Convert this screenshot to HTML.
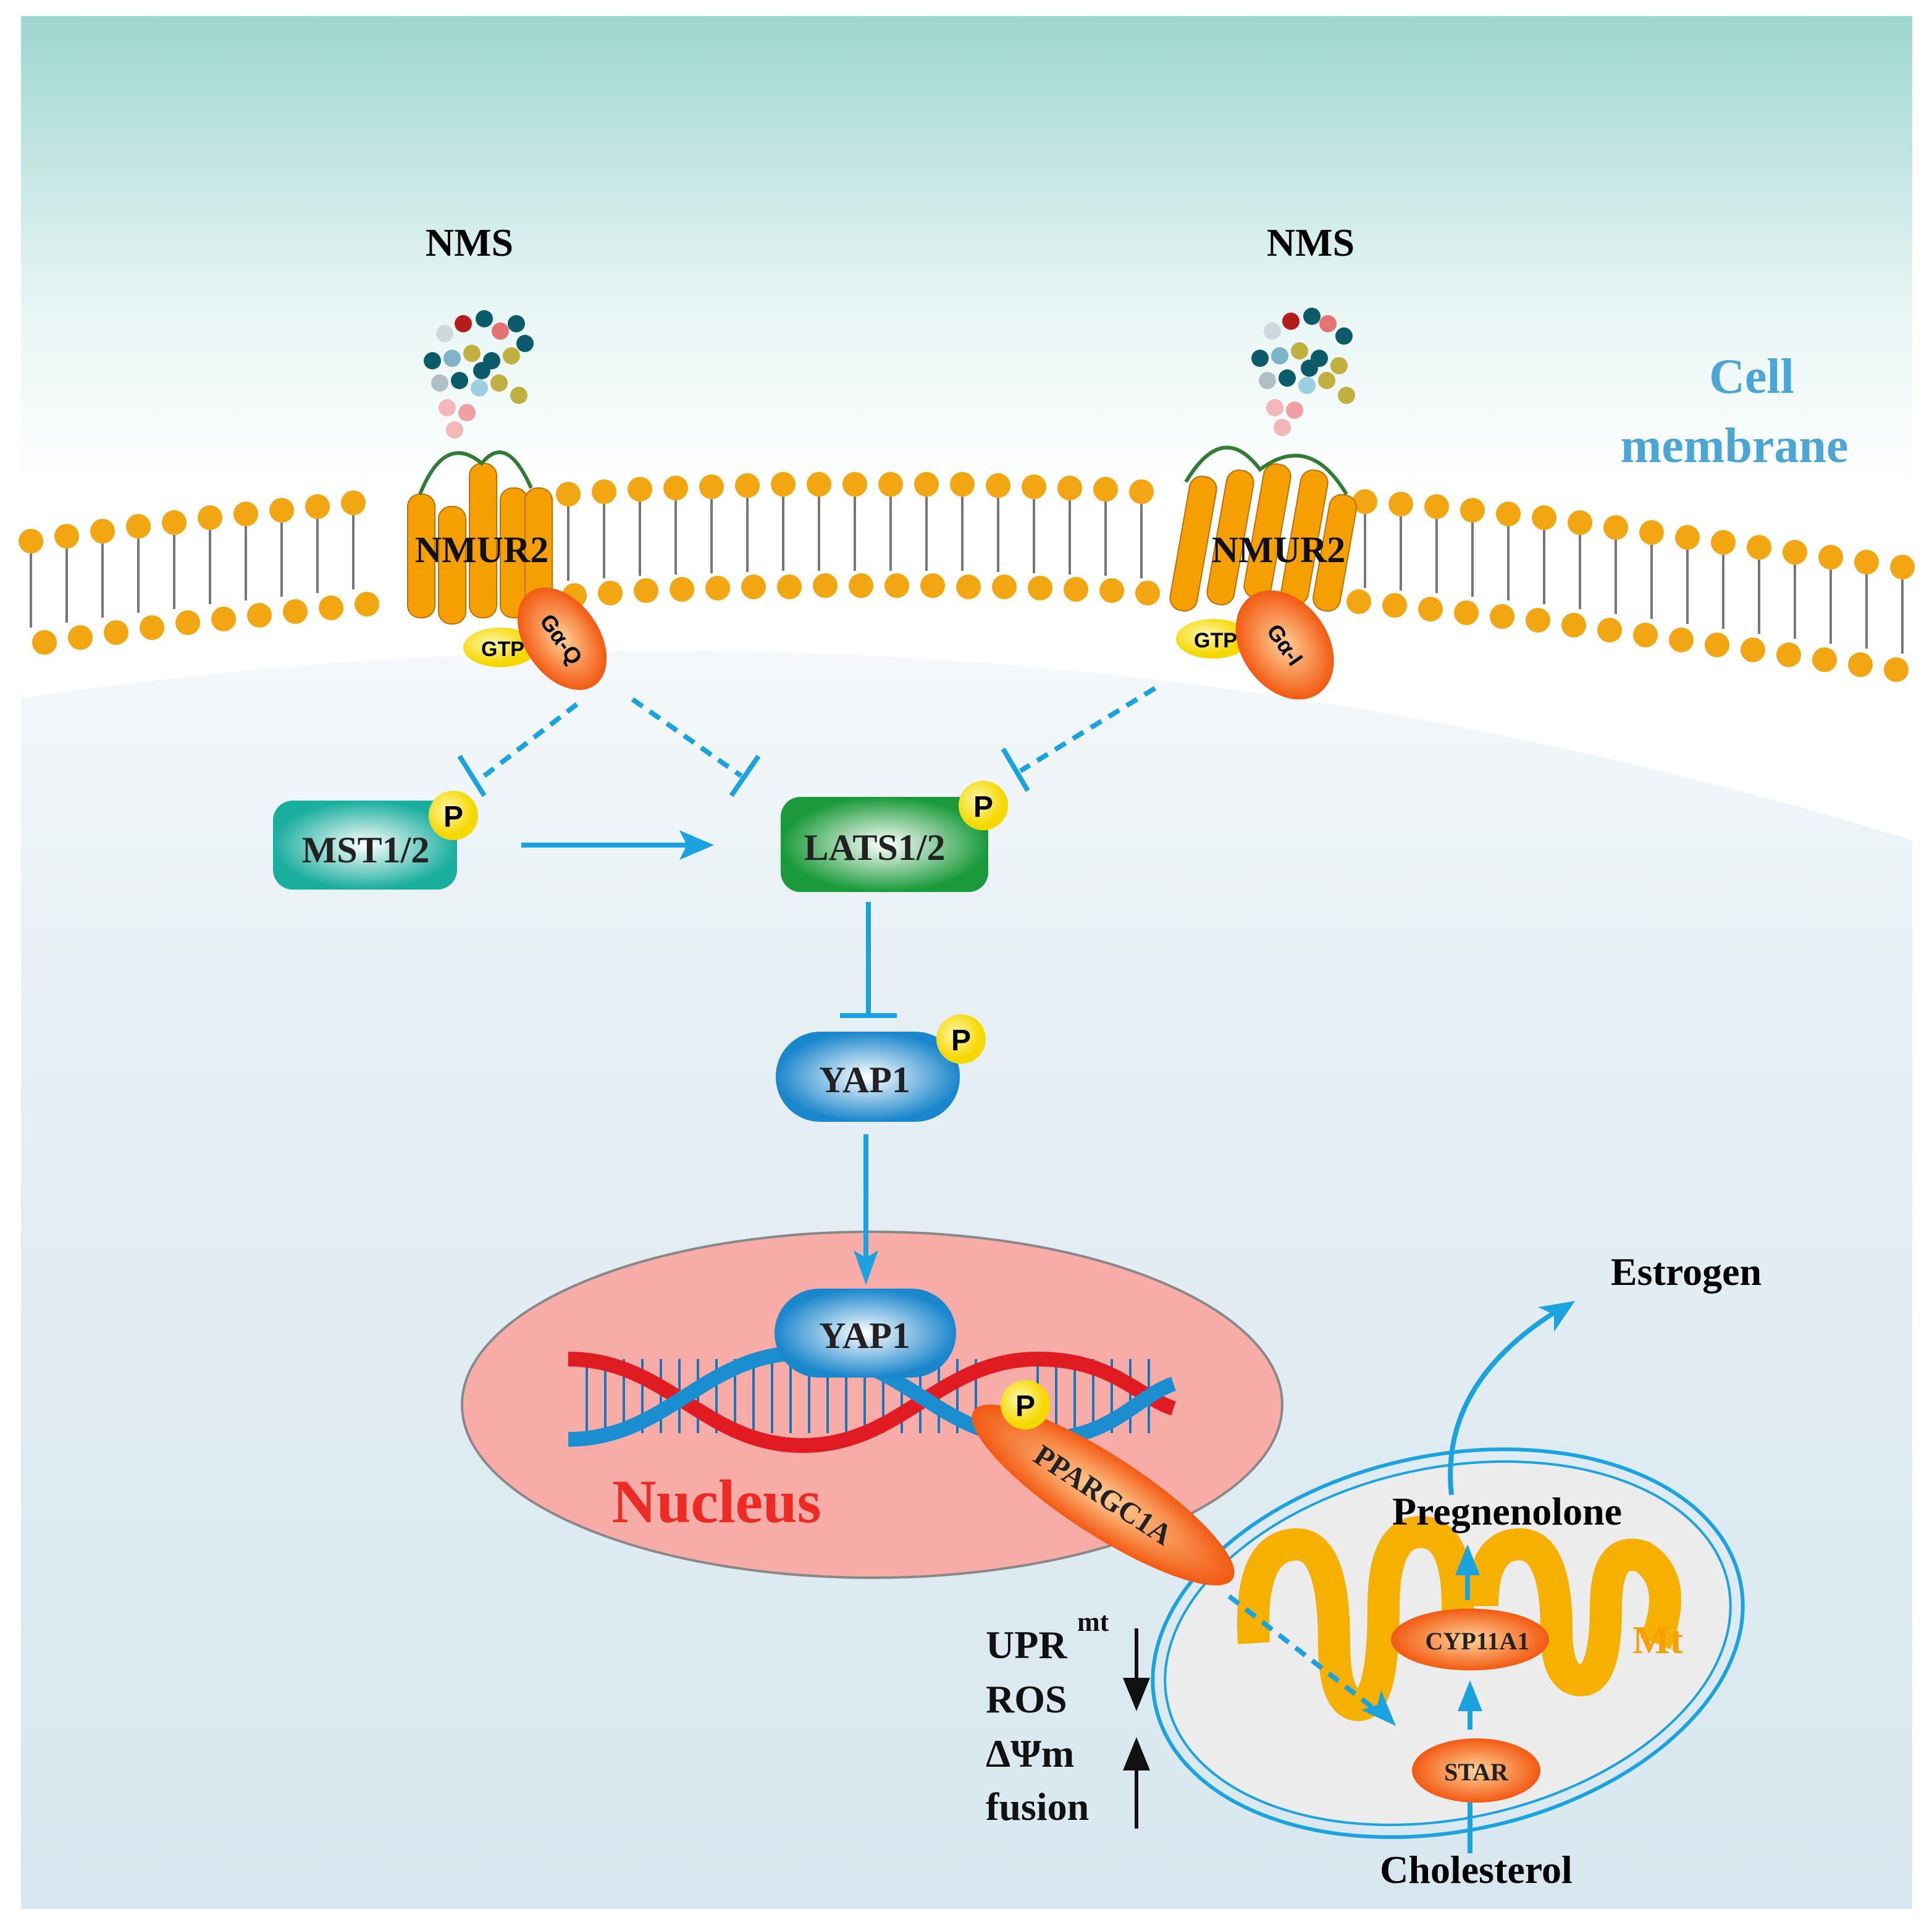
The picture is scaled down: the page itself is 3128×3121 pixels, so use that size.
<!DOCTYPE html>
<html><head><meta charset="utf-8"><style>html,body{margin:0;padding:0;background:#fff}svg{display:block}</style></head><body>
<svg width="3128" height="3121" viewBox="0 0 1564 1560.5" xmlns="http://www.w3.org/2000/svg" font-family="Liberation Serif, serif">
<defs>
<linearGradient id="bg" x1="0" y1="0" x2="0" y2="1"><stop offset="0" stop-color="#9ed6d0"/><stop offset="0.15" stop-color="#e6f5f3"/><stop offset="0.25" stop-color="#ffffff"/><stop offset="1" stop-color="#ffffff"/></linearGradient>
<linearGradient id="cy" x1="0" y1="0" x2="0" y2="1"><stop offset="0" stop-color="#f4f8fa"/><stop offset="0.3" stop-color="#e6eff4"/><stop offset="1" stop-color="#d8e7ef"/></linearGradient>
<radialGradient id="gT"><stop offset="0" stop-color="#fff"/><stop offset="1" stop-color="#1aae9e"/></radialGradient>
<radialGradient id="gG"><stop offset="0" stop-color="#fff"/><stop offset="1" stop-color="#1a9a3a"/></radialGradient>
<radialGradient id="gB"><stop offset="0" stop-color="#fff"/><stop offset="1" stop-color="#1a86cc"/></radialGradient>
<radialGradient id="gO"><stop offset="0" stop-color="#ffd29a"/><stop offset="1" stop-color="#f25a12"/></radialGradient>
<radialGradient id="gY" cx="0.4" cy="0.4"><stop offset="0" stop-color="#fff7b0"/><stop offset="1" stop-color="#f5d800"/></radialGradient>
</defs>
<rect x="0" y="0" width="1564" height="1561" fill="#fff"/>
<rect x="17" y="13" width="1531" height="1532" fill="url(#bg)"/>
<path d="M17,565 Q800,450 1548,680 L1548,1545 L17,1545Z" fill="url(#cy)"/>
<g>
<g fill="#f2a612">
<circle cx="25" cy="438" r="10"/><circle cx="54" cy="434" r="10"/><circle cx="83" cy="430" r="10"/><circle cx="112" cy="426" r="10"/><circle cx="141" cy="423" r="10"/><circle cx="170" cy="419" r="10"/><circle cx="199" cy="416" r="10"/><circle cx="228" cy="413" r="10"/><circle cx="257" cy="410" r="10"/><circle cx="286" cy="407" r="10"/>
<circle cx="460" cy="400" r="10"/><circle cx="489" cy="398" r="10"/><circle cx="518" cy="396" r="10"/><circle cx="547" cy="395" r="10"/><circle cx="576" cy="394" r="10"/><circle cx="605" cy="393" r="10"/><circle cx="634" cy="392" r="10"/><circle cx="663" cy="392" r="10"/><circle cx="692" cy="392" r="10"/><circle cx="721" cy="392" r="10"/><circle cx="750" cy="392" r="10"/><circle cx="779" cy="392" r="10"/><circle cx="808" cy="393" r="10"/><circle cx="837" cy="394" r="10"/><circle cx="866" cy="395" r="10"/><circle cx="895" cy="396" r="10"/><circle cx="924" cy="398" r="10"/>
<circle cx="1105" cy="406" r="10"/><circle cx="1134" cy="408" r="10"/><circle cx="1163" cy="410" r="10"/><circle cx="1192" cy="413" r="10"/><circle cx="1221" cy="416" r="10"/><circle cx="1250" cy="419" r="10"/><circle cx="1279" cy="423" r="10"/><circle cx="1308" cy="427" r="10"/><circle cx="1337" cy="431" r="10"/><circle cx="1366" cy="435" r="10"/><circle cx="1395" cy="439" r="10"/><circle cx="1424" cy="443" r="10"/><circle cx="1453" cy="447" r="10"/><circle cx="1482" cy="451" r="10"/><circle cx="1511" cy="455" r="10"/><circle cx="1540" cy="459" r="10"/>
<circle cx="36" cy="520" r="10"/><circle cx="65" cy="516" r="10"/><circle cx="94" cy="512" r="10"/><circle cx="123" cy="508" r="10"/><circle cx="152" cy="504" r="10"/><circle cx="181" cy="501" r="10"/><circle cx="210" cy="498" r="10"/><circle cx="239" cy="495" r="10"/><circle cx="268" cy="492" r="10"/><circle cx="297" cy="489" r="10"/>
<circle cx="465" cy="482" r="10"/><circle cx="494" cy="480" r="10"/><circle cx="523" cy="478" r="10"/><circle cx="552" cy="477" r="10"/><circle cx="581" cy="476" r="10"/><circle cx="610" cy="475" r="10"/><circle cx="639" cy="475" r="10"/><circle cx="668" cy="474" r="10"/><circle cx="697" cy="474" r="10"/><circle cx="726" cy="474" r="10"/><circle cx="755" cy="474" r="10"/><circle cx="784" cy="475" r="10"/><circle cx="813" cy="475" r="10"/><circle cx="842" cy="476" r="10"/><circle cx="871" cy="477" r="10"/><circle cx="900" cy="478" r="10"/><circle cx="929" cy="480" r="10"/>
<circle cx="1100" cy="487" r="10"/><circle cx="1129" cy="490" r="10"/><circle cx="1158" cy="493" r="10"/><circle cx="1187" cy="496" r="10"/><circle cx="1216" cy="499" r="10"/><circle cx="1245" cy="502" r="10"/><circle cx="1274" cy="506" r="10"/><circle cx="1303" cy="510" r="10"/><circle cx="1332" cy="514" r="10"/><circle cx="1361" cy="518" r="10"/><circle cx="1390" cy="522" r="10"/><circle cx="1419" cy="526" r="10"/><circle cx="1448" cy="530" r="10"/><circle cx="1477" cy="534" r="10"/><circle cx="1506" cy="538" r="10"/><circle cx="1535" cy="542" r="10"/>
</g>
<path stroke="#777" stroke-width="2" fill="none" d="M25,448v60 M54,444v60 M83,440v60 M112,436v60 M141,433v60 M170,429v60 M199,426v60 M228,423v60 M257,420v60 M286,417v60 M460,410v60 M489,408v60 M518,406v60 M547,405v60 M576,404v60 M605,403v60 M634,402v60 M663,402v60 M692,402v60 M721,402v60 M750,402v60 M779,402v60 M808,403v60 M837,404v60 M866,405v60 M895,406v60 M924,408v60 M1105,416v60 M1134,418v60 M1163,420v60 M1192,423v60 M1221,426v60 M1250,429v60 M1279,433v60 M1308,437v60 M1337,441v60 M1366,445v60 M1395,449v60 M1424,453v60 M1453,457v60 M1482,461v60 M1511,465v60 M1540,469v60"/>
</g>
<g fill="#f5a000" stroke="#c07000" stroke-width="1">
<rect x="330" y="400" width="22" height="100" rx="10"/><rect x="355" y="410" width="22" height="95" rx="10"/><rect x="380" y="375" width="22" height="125" rx="10"/><rect x="405" y="395" width="22" height="105" rx="10"/><rect x="425" y="395" width="22" height="100" rx="10"/>
<rect x="955" y="385" width="22" height="110" rx="10" transform="rotate(10 966 440)"/><rect x="985" y="380" width="22" height="110" rx="10" transform="rotate(10 996 435)"/><rect x="1015" y="375" width="22" height="110" rx="10" transform="rotate(10 1026 430)"/><rect x="1045" y="380" width="22" height="110" rx="10" transform="rotate(10 1056 435)"/><rect x="1070" y="400" width="22" height="95" rx="10" transform="rotate(10 1081 445)"/>
</g>
<path d="M340,400 Q360,350 390,375 Q410,350 430,395 M960,390 Q990,340 1020,380 Q1060,350 1090,400" stroke="#2e7d32" stroke-width="3" fill="none"/>
<text x="390" y="455" font-size="30" font-weight="bold" text-anchor="middle" fill="#111">NMUR2</text>
<text x="1035" y="455" font-size="30" font-weight="bold" text-anchor="middle" fill="#111">NMUR2</text>
<ellipse cx="405" cy="524" rx="30" ry="16" fill="url(#gY)"/>
<text x="407" y="531" font-size="17" font-weight="bold" font-family="Liberation Sans, sans-serif" text-anchor="middle">GTP</text>
<ellipse cx="455" cy="517" rx="30" ry="46" fill="url(#gO)" transform="rotate(-35 455 517)"/>
<text x="455" y="524" font-size="18" font-weight="bold" font-family="Liberation Sans, sans-serif" text-anchor="middle" transform="rotate(55 455 517)">Gα-Q</text>
<ellipse cx="982" cy="517" rx="30" ry="16" fill="url(#gY)"/>
<text x="984" y="524" font-size="17" font-weight="bold" font-family="Liberation Sans, sans-serif" text-anchor="middle">GTP</text>
<ellipse cx="1040" cy="522" rx="35" ry="48" fill="url(#gO)" transform="rotate(-35 1040 522)"/>
<text x="1040" y="528" font-size="18" font-weight="bold" font-family="Liberation Sans, sans-serif" text-anchor="middle" transform="rotate(55 1040 522)">Gα-I</text>
<g>
<circle cx="360" cy="270" r="7" fill="#cfd8dc"/><circle cx="375" cy="262" r="7" fill="#b71c1c"/><circle cx="392" cy="258" r="7" fill="#0b5b6b"/><circle cx="405" cy="268" r="7" fill="#e57373"/><circle cx="418" cy="262" r="7" fill="#0b5b6b"/><circle cx="350" cy="292" r="7" fill="#0b5b6b"/><circle cx="366" cy="290" r="7" fill="#7fb3c8"/><circle cx="382" cy="286" r="7" fill="#bfb040"/><circle cx="398" cy="292" r="7" fill="#0b5b6b"/><circle cx="414" cy="288" r="7" fill="#bfb040"/><circle cx="356" cy="310" r="7" fill="#b0bec5"/><circle cx="372" cy="308" r="7" fill="#0b5b6b"/><circle cx="388" cy="314" r="7" fill="#9ecfe0"/><circle cx="404" cy="310" r="7" fill="#bfb040"/><circle cx="420" cy="320" r="7" fill="#bfb040"/><circle cx="362" cy="330" r="7" fill="#f4b6b6"/><circle cx="378" cy="334" r="7" fill="#f0a0a0"/><circle cx="368" cy="348" r="7" fill="#f4b6b6"/><circle cx="390" cy="300" r="7" fill="#0b5b6b"/><circle cx="425" cy="278" r="7" fill="#0b5b6b"/>
<circle cx="1030" cy="268" r="7" fill="#cfd8dc"/><circle cx="1045" cy="260" r="7" fill="#b71c1c"/><circle cx="1062" cy="256" r="7" fill="#0b5b6b"/><circle cx="1075" cy="262" r="7" fill="#e57373"/><circle cx="1088" cy="272" r="7" fill="#0b5b6b"/><circle cx="1020" cy="290" r="7" fill="#0b5b6b"/><circle cx="1036" cy="288" r="7" fill="#7fb3c8"/><circle cx="1052" cy="284" r="7" fill="#bfb040"/><circle cx="1068" cy="290" r="7" fill="#0b5b6b"/><circle cx="1084" cy="296" r="7" fill="#bfb040"/><circle cx="1026" cy="308" r="7" fill="#b0bec5"/><circle cx="1042" cy="306" r="7" fill="#0b5b6b"/><circle cx="1058" cy="312" r="7" fill="#9ecfe0"/><circle cx="1074" cy="308" r="7" fill="#bfb040"/><circle cx="1090" cy="320" r="7" fill="#bfb040"/><circle cx="1032" cy="330" r="7" fill="#f4b6b6"/><circle cx="1048" cy="332" r="7" fill="#f0a0a0"/><circle cx="1038" cy="346" r="7" fill="#f4b6b6"/><circle cx="1060" cy="298" r="7" fill="#0b5b6b"/>
</g>
<text x="380" y="207" font-size="32" font-weight="bold" text-anchor="middle">NMS</text>
<text x="1061" y="207" font-size="32" font-weight="bold" text-anchor="middle">NMS</text>
<text x="1418" y="318" font-size="40" font-weight="bold" text-anchor="middle" fill="#4ba6d6">Cell</text>
<text x="1404" y="374" font-size="40" font-weight="bold" text-anchor="middle" fill="#4ba6d6">membrane</text>
<rect x="221" y="648" width="149" height="72" rx="16" fill="url(#gT)"/>
<text x="296" y="698" font-size="30" font-weight="bold" text-anchor="middle" fill="#222">MST1/2</text>
<circle cx="367" cy="660" r="20" fill="url(#gY)"/><text x="367" y="669" font-size="24" font-weight="bold" font-family="Liberation Sans, sans-serif" text-anchor="middle">P</text>
<rect x="632" y="645" width="168" height="77" rx="16" fill="url(#gG)"/>
<text x="708" y="696" font-size="30" font-weight="bold" text-anchor="middle" fill="#222">LATS1/2</text>
<circle cx="796" cy="652" r="20" fill="url(#gY)"/><text x="796" y="661" font-size="24" font-weight="bold" font-family="Liberation Sans, sans-serif" text-anchor="middle">P</text>
<rect x="628" y="835" width="149" height="73" rx="36" fill="url(#gB)"/>
<text x="700" y="884" font-size="30" font-weight="bold" text-anchor="middle" fill="#222">YAP1</text>
<circle cx="778" cy="841" r="20" fill="url(#gY)"/><text x="778" y="850" font-size="24" font-weight="bold" font-family="Liberation Sans, sans-serif" text-anchor="middle">P</text>
<ellipse cx="706" cy="1137" rx="332" ry="140" fill="#f7aca7" stroke="#888" stroke-width="2"/>
<path stroke="#1b75bb" stroke-width="2" d="M475,1100v60 M490,1100v60 M505,1100v60 M520,1100v60 M535,1100v60 M550,1100v60 M565,1100v60 M580,1100v60 M595,1100v60 M610,1100v60 M625,1100v60 M640,1100v60 M655,1100v60 M670,1100v60 M685,1100v60 M700,1100v60 M715,1100v60 M730,1100v60 M745,1100v60 M760,1100v60 M775,1100v60 M790,1100v60 M840,1100v60 M855,1100v60 M870,1100v60 M885,1100v60 M900,1100v60 M915,1100v60 M930,1100v60"/>
<path d="M460,1100 C540,1100 570,1170 650,1170 C730,1170 760,1100 840,1100 C900,1100 920,1130 950,1140" stroke="#e01b22" stroke-width="12" fill="none"/>
<path d="M460,1165 C540,1165 570,1095 650,1095 C730,1095 760,1165 840,1165 C900,1165 920,1130 950,1120" stroke="#1b8ed0" stroke-width="12" fill="none"/>
<rect x="627" y="1043" width="147" height="72" rx="36" fill="url(#gB)"/>
<text x="700" y="1091" font-size="30" font-weight="bold" text-anchor="middle" fill="#222">YAP1</text>
<text x="580" y="1232" font-size="50" font-weight="bold" text-anchor="middle" fill="#ee2a24">Nucleus</text>
<ellipse cx="1172" cy="1330" rx="242" ry="152" fill="none" stroke="#1aa3e0" stroke-width="3" transform="rotate(-12 1172 1330)"/>
<ellipse cx="1172" cy="1330" rx="232" ry="142" fill="#ececec" stroke="#1aa3e0" stroke-width="2" transform="rotate(-12 1172 1330)"/>
<path d="M1015,1330 Q1010,1250 1050,1250 Q1080,1250 1080,1330 Q1080,1380 1100,1380 Q1120,1380 1120,1300 Q1120,1240 1150,1240 Q1180,1240 1180,1300 L1180,1310 M1200,1300 Q1200,1250 1230,1250 Q1260,1250 1260,1320 Q1260,1360 1280,1360 Q1300,1360 1300,1300 Q1300,1250 1330,1260 Q1360,1280 1340,1330" stroke="#f5b000" stroke-width="26" fill="none"/>
<text x="1342" y="1338" font-size="32" font-weight="bold" text-anchor="middle" fill="#f5a000">Mt</text>
<ellipse cx="893" cy="1210" rx="125" ry="32" fill="url(#gO)" transform="rotate(33 893 1210)"/>
<text x="893" y="1218" font-size="24" font-weight="bold" text-anchor="middle" fill="#222" transform="rotate(33 893 1210)">PPARGC1A</text>
<circle cx="830" cy="1137" r="20" fill="url(#gY)"/><text x="830" y="1146" font-size="24" font-weight="bold" font-family="Liberation Sans, sans-serif" text-anchor="middle">P</text>
<g stroke="#1aa3e0" stroke-width="4" fill="none">
<path d="M467,570 L392,628" stroke-dasharray="10,7"/><path d="M372,612 L392,644"/>
<path d="M512,566 L600,628" stroke-dasharray="10,7"/><path d="M614,612 L592,644"/>
<path d="M935,557 L826,624" stroke-dasharray="10,7"/><path d="M812,606 L832,640"/>
<path d="M422,684 L565,684"/>
<path d="M703,730 L703,820"/><path d="M680,822 L726,822"/>
<path d="M701,918 L701,1025"/>
<path d="M995,1292 L1115,1385" stroke-dasharray="10,7"/>
<path d="M1190,1500 L1190,1455 M1190,1400 L1190,1375 M1188,1295 L1188,1265 M1175,1210 Q1165,1120 1262,1060"/>
</g>
<g fill="#1aa3e0">
<path d="M578,684 L550,672 L556,684 L550,696Z"/>
<path d="M701,1040 L691,1012 L701,1018 L711,1012Z"/>
<path d="M1130,1397 L1102,1384 L1115,1380 L1118,1368Z"/>
<path d="M1190,1360 L1180,1385 L1200,1385Z"/>
<path d="M1188,1250 L1178,1275 L1198,1275Z"/>
<path d="M1275,1053 L1245,1058 L1258,1064 L1258,1078Z"/>
</g>
<ellipse cx="1190" cy="1327" rx="64" ry="25" fill="url(#gO)"/>
<text x="1196" y="1335" font-size="20" font-weight="bold" text-anchor="middle" fill="#222">CYP11A1</text>
<ellipse cx="1195" cy="1433" rx="52" ry="26" fill="url(#gO)"/>
<text x="1195" y="1441" font-size="20" font-weight="bold" text-anchor="middle" fill="#222">STAR</text>
<text x="1220" y="1234" font-size="32" font-weight="bold" text-anchor="middle">Pregnenolone</text>
<text x="1365" y="1040" font-size="32" font-weight="bold" text-anchor="middle">Estrogen</text>
<text x="1195" y="1524" font-size="32" font-weight="bold" text-anchor="middle">Cholesterol</text>
<g font-size="32" font-weight="bold" fill="#111">
<text x="798" y="1342">UPR</text><text x="872" y="1320" font-size="22">mt</text>
<text x="798" y="1386">ROS</text>
<text x="798" y="1430">ΔΨm</text>
<text x="798" y="1473">fusion</text>
</g>
<g stroke="#111" stroke-width="3"><path d="M920,1318 V1375 M920,1420 V1480"/></g>
<path d="M920,1385 L909,1358 L931,1358Z M920,1406 L909,1433 L931,1433Z" fill="#111"/>
</svg>
</body></html>
